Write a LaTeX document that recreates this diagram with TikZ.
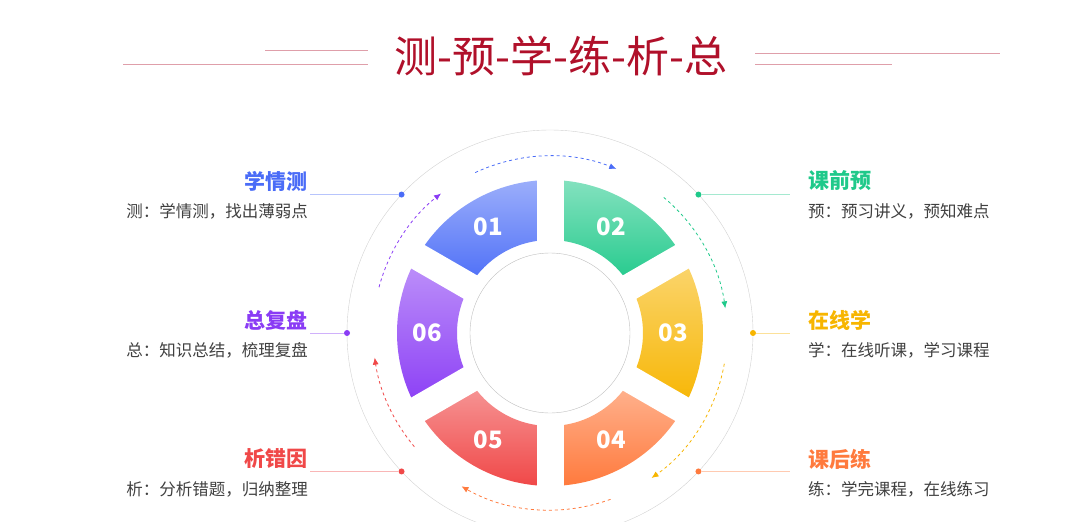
\documentclass[tikz,border=0pt]{standalone}
\usepackage{fontspec}
\setmainfont{Noto Sans CJK SC}
\usetikzlibrary{calc,arrows.meta}
\definecolor{cblue}{HTML}{4A6CF7}
\definecolor{cgreen}{HTML}{1FC98A}
\definecolor{cyellow}{HTML}{F7B500}
\definecolor{corange}{HTML}{FF7A3D}
\definecolor{cred}{HTML}{F04848}
\definecolor{cpurple}{HTML}{8A3CF5}
\definecolor{ctitle}{HTML}{B0102A}
\tikzset{
  head/.style={font=\bfseries\fontsize{21}{21}\selectfont,inner sep=0pt},
  desc/.style={font=\fontsize{16.5}{16.5}\selectfont,text=black!75,inner sep=0pt},
  num/.style={font=\bfseries\fontsize{24}{24}\selectfont,text=white},
  flow/.style={dashed,line width=0.8pt,-{Latex[length=7pt,width=6pt]}},
  dot/.style={circle,fill,inner sep=0pt,minimum size=6pt}
}
\begin{document}
\begin{tikzpicture}[x=1pt,y=-1pt]
\useasboundingbox (0,0) rectangle (1080,522);
% title
\node[font=\fontsize{43}{43}\selectfont,text=ctitle] (title) at (561,56) {测-预-学-练-析-总};
\draw[ctitle!40] (265,50) -- (368,50) (123,64) -- (368,64);
\draw[ctitle!40] (755,53) -- (1000,53) (755,64) -- (892,64);
% rings
\coordinate (c) at (550,333);
\draw[black!18] (c) circle[radius=203];
\draw[black!25] (c) circle[radius=80];
% segments
\foreach \a/\cl/\n in {120/cblue/01,60/cgreen/02,0/cyellow/03,-60/corange/04,-120/cred/05,180/cpurple/06}{
  \shade[top color=\cl!55,bottom color=\cl] ($(c)+(\a-30:93 and -93)$) arc[start angle=\a-30,end angle=\a+30,x radius=93,y radius=-93]
    -- ($(c)+(\a+30:153 and -153)$) arc[start angle=\a+30,end angle=\a-30,x radius=153,y radius=-153] -- cycle;
  \node[num] (n\n) at ($(c)+(\a:123 and -123)$) {\n};
}
\foreach \a in {30,90,...,330}
  \draw[white,line width=27pt] ($(c)+(\a:88 and -88)$) -- ($(c)+(\a:158 and -158)$);
% dashed arrows
\foreach \s/\e/\cl in {115/68/cblue,50/8/cgreen,-10/-55/cyellow,-70/-120/corange,-140/-172/cred,165/128/cpurple}
  \draw[flow,\cl] ($(c)+(\s:177 and -177)$) arc[start angle=\s,end angle=\e,x radius=177,y radius=-177];
% labels
\foreach \a/\y/\cl/\h/\d/\nm in {137/181/cblue/学情测/测：学情测，找出薄弱点/a,180/320/cpurple/总复盘/总：知识总结，梳理复盘/f,-137/459/cred/析错因/析：分析错题，归纳整理/e}{
  \node[dot,\cl] (p\nm) at ($(c)+(\a:203 and -203)$) {};
  \coordinate (q\nm) at (310,0 |- p\nm);
  \draw[\cl!40] (p\nm) -- (q\nm);
  \node[head,text=\cl,anchor=east] (h\nm) at (308,\y) {\h};
  \node[desc,anchor=east] (d\nm) at (308,\y+30) {\d};
}
\foreach \a/\y/\cl/\h/\d/\nm in {43/181/cgreen/课前预/预：预习讲义，预知难点/b,0/320/cyellow/在线学/学：在线听课，学习课程/c,-43/459/corange/课后练/练：学完课程，在线练习/d}{
  \node[dot,\cl] (p\nm) at ($(c)+(\a:203 and -203)$) {};
  \coordinate (q\nm) at (790,0 |- p\nm);
  \draw[\cl!40] (p\nm) -- (q\nm);
  \node[head,text=\cl,anchor=west] (h\nm) at (808,\y) {\h};
  \node[desc,anchor=west] (d\nm) at (808,\y+30) {\d};
}
\end{tikzpicture}
\end{document}
